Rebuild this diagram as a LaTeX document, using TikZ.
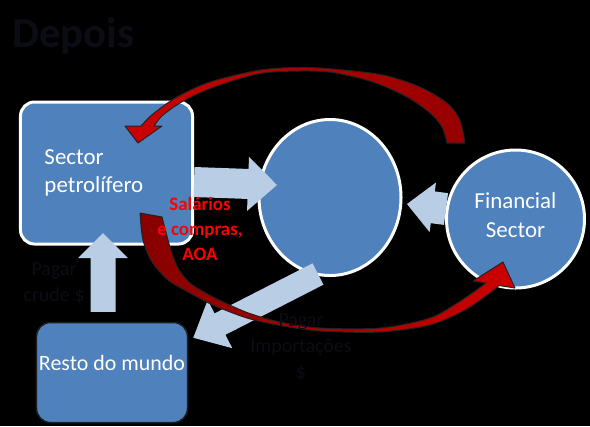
\documentclass[tikz,border=0pt]{standalone}
\usepackage{fontspec}
\setmainfont{Carlito}
\usetikzlibrary{calc,shapes.geometric}

\definecolor{boxblue}{RGB}{79,129,189}
\definecolor{flowblue}{RGB}{185,205,229}
\definecolor{arcred}{RGB}{204,0,0}
\definecolor{arcdark}{RGB}{135,0,0}
\definecolor{labelred}{RGB}{255,0,0}
\definecolor{inkgray}{RGB}{12,12,20}

\tikzset{
  arcline/.style={draw={rgb,255:red,35;green,35;blue,35}, line width=1bp, line join=round}
}

% block arrow: from, to, half shaft, half head, head length
\newcommand{\flowarrow}[5]{%
  \coordinate (flowneck) at ($(#2)!#5!(#1)$);
  \fill[flowblue] ($(#1)!#3!90:(#2)$) -- ($(flowneck)!#3!90:(#2)$) -- ($(flowneck)!#4!90:(#2)$)
    -- (#2) -- ($(flowneck)!#4!-90:(#2)$) -- ($(flowneck)!#3!-90:(#2)$) -- ($(#1)!#3!-90:(#2)$) -- cycle;
}

\begin{document}
\begin{tikzpicture}[x=1bp,y=-1bp]
        \tikzstyle{every node}=[font=\fontsize{23}{28}\selectfont, text=white, inner sep=0pt]
        \tikzstyle{sectorbox}=[draw=white, line width=3bp, fill=boxblue, rounded corners=14bp]
        \tikzstyle{roundnode}=[draw=white, line width=3bp, fill=boxblue]
        \tikzstyle{restobox}=[draw={rgb,255:red,30;green,30;blue,30}, line width=1.5bp, fill=boxblue, rounded corners=14bp]
        \tikzstyle{redtext}=[text=labelred, align=center, font=\bfseries\fontsize{19}{25}\selectfont]
        \tikzstyle{inktext}=[text=inkgray, align=center, font=\fontsize{20}{26}\selectfont]

        \fill[black] (0,0) rectangle (590,426);
        \useasboundingbox (0,0) rectangle (590,426);

        % blocks
        \node[sectorbox, minimum width=172bp, minimum height=142bp, text width=124bp, align=left] (petro) at (106.5,173) {Sector\\petrolífero};
        \node[roundnode, ellipse, minimum width=142bp, minimum height=156bp] (econ) at (330,197.5) {};
        \node[roundnode, circle, minimum size=138bp, align=center, font=\fontsize{23}{29}\selectfont] (fin) at (515.5,219) {Financial\\\raisebox{0pt}[\height][\dimexpr\depth+8bp\relax]{Sector}};
        \node[restobox, minimum width=151bp, minimum height=100bp, font=\fontsize{22}{26}\selectfont] (resto) at (112,372.5) {\raisebox{0pt}[\height][\dimexpr\depth+20bp\relax]{Resto do mundo}};

        % light flows
        \coordinate (petroout) at ([yshift=-9bp]petro.east);
        \coordinate (econin) at ([xshift=19.5bp,yshift=12.5bp]econ.west);
        \coordinate (finout) at ([xshift=1bp,yshift=10bp]fin.west);
        \coordinate (econinr) at ([xshift=4.5bp,yshift=-6.5bp]econ.east);
        \coordinate (restoout) at ([xshift=-9bp,yshift=10bp]resto.north);
        \coordinate (petroin) at ([xshift=-3.5bp,yshift=12.5bp]petro.south);
        \coordinate (econout) at ([xshift=-12bp,yshift=3bp]econ.south);
        \coordinate (restoin) at ([xshift=5bp,yshift=-16bp]resto.north east);
        \flowarrow{petroout}{econin}{15bp}{27bp}{29bp}
        \flowarrow{finout}{econinr}{16bp}{25bp}{26bp}
        \flowarrow{restoout}{petroin}{12.5bp}{25bp}{25bp}
        \flowarrow{econout}{restoin}{12bp}{27bp}{30bp}

        % money arcs
        \draw[arcline, left color=arcred, right color={rgb,255:red,150;green,0;blue,0}]
          plot[smooth] coordinates {(465,143) (460,120) (447,103) (420,87) (383,75) (333,69) (300,67.5) (260,70) (210,82) (177,97) (153,114) (141,126)}
          -- (125,126) -- (138,143) -- (162,126) -- (154,126)
          -- plot[smooth] coordinates {(154,126) (163,115) (185,100) (217,86) (260,73.5) (300,71) (333,72.5) (373,82) (407,97) (430,113) (442,127) (447,143)}
          -- cycle;
        \draw[arcline, left color=arcdark, right color=arcred]
          plot[smooth] coordinates {(140,213) (143,240) (152,262) (168,280) (190,293) (213,305) (247,318) (280,325.5) (320,331) (380,332) (430,325) (465,310) (490,293) (499,285.5)}
          -- (515,288) -- (503,262) -- (473,281) -- (486,283)
          -- plot[smooth] coordinates {(486,283) (462,300) (430,318) (380,328) (320,328) (280,322) (247,312.5) (213,297) (190,283) (178,268) (170,247) (162,217)}
          -- cycle;

        % labels
        \node[inktext, font=\bfseries\fontsize{43}{50}\selectfont, anchor=base west] (title) at (12,47) {Depois};
        \node[redtext] (wages) at (200,229) {Salários\\e compras,\\AOA};
        \node[inktext] (paycrude) at (54,283) {Pagar\\crude \$};
        \node[inktext] (payimports) at (301,347) {Pagar\\Importações\\\$};
\end{tikzpicture}
\end{document}
